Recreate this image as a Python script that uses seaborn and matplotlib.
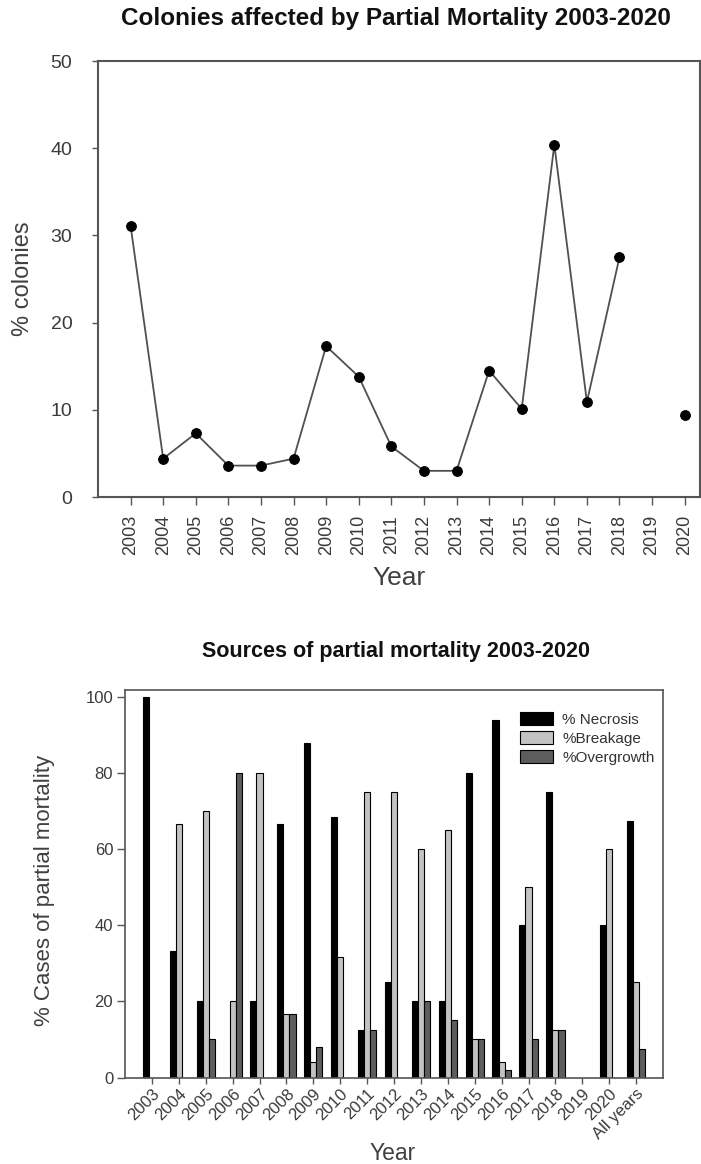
import numpy as np
import pandas as pd
import matplotlib
matplotlib.use("Agg")
import matplotlib.pyplot as plt
import seaborn as sns

# ---- data -------------------------------------------------------------
years = list(range(2003, 2021))
colonies_pct = [31.1, 4.4, 7.3, 3.6, 3.6, 4.4, 17.3, 13.8, 5.8, 3.0,
                3.0, 14.5, 10.1, 40.4, 10.9, 27.5, np.nan, 9.4]

source_years = [str(y) for y in range(2003, 2021)] + ["All years"]
necrosis = [100, 33.3, 20, 0, 20, 66.7, 88, 68.4, 12.5, 25,
            20, 20, 80, 94, 40, 75, 0, 40, 67.5]
breakage = [0, 66.7, 70, 20, 80, 16.7, 4, 31.6, 75, 75,
            60, 65, 10, 4, 50, 12.5, 0, 60, 25]
overgrowth = [0, 0, 10, 80, 0, 16.7, 8, 0, 12.5, 0,
              20, 15, 10, 2, 10, 12.5, 0, 0, 7.5]
source_names = ["% Necrosis", "%Breakage", "%Overgrowth"]
source_colors = ["#000000", "#c3c3c3", "#5d5d5d"]

# ---- style ------------------------------------------------------------
sns.set_style("white")
plt.rcParams["font.family"] = ["Liberation Sans", "DejaVu Sans"]
TICK_C = "#3a3a3a"
LABEL_C = "#404040"

W, H = 701, 1164
fig = plt.figure(figsize=(W / 100, H / 100), dpi=100)


def px_axes(left, top, right, bottom):
    return fig.add_axes([left / W, 1 - bottom / H, (right - left) / W, (bottom - top) / H])


# ---- upper panel: colonies with partial mortality ---------------------
ax1 = px_axes(98, 61, 700, 497)
line_df = pd.DataFrame({"year": years, "pct": colonies_pct})
line_df["run"] = line_df["pct"].isna().cumsum()
line_df = line_df.dropna()
sns.lineplot(data=line_df, x="year", y="pct", units="run", estimator=None,
             color="#505050", linewidth=1.3, marker="o", markersize=7,
             markerfacecolor="black", markeredgecolor="black",
             legend=False, ax=ax1)
ax1.set_xlim(2002, 2020.47)
ax1.set_ylim(0, 50)
ax1.set_xticks(years)
ax1.set_xticklabels([str(y) for y in years], rotation=90, fontsize=13, color=TICK_C)
ax1.set_yticks(range(0, 51, 10))
ax1.set_yticklabels([str(v) for v in range(0, 51, 10)], fontsize=14, color=TICK_C)
ax1.tick_params(axis="x", direction="out", length=5.8, width=1, color="#555555",
                pad=7, bottom=True)
ax1.tick_params(axis="y", direction="out", length=4.5, width=1, color="#555555",
                pad=14, left=True)
for s in ax1.spines.values():
    s.set_color("#555555")
    s.set_linewidth(1.5)
ax1.set_xlabel("Year", fontsize=19, color=LABEL_C)
ax1.set_ylabel("% colonies", fontsize=17, color=LABEL_C)
ax1.xaxis.set_label_coords(0.5, -0.158)
ax1.yaxis.set_label_coords(-0.107, 0.5)
fig.text(396 / W, 1 - 18 / H, "Colonies affected by Partial Mortality 2003-2020",
         ha="center", va="center", fontsize=17.5, fontweight="bold", color="#111111")

# ---- lower panel: sources of partial mortality ------------------------
ax2 = px_axes(125, 690, 663, 1077.5)
bar_df = pd.DataFrame({
    "year": source_years * 3,
    "source": np.repeat(source_names, len(source_years)),
    "value": necrosis + breakage + overgrowth,
})
sns.barplot(data=bar_df, x="year", y="value", hue="source", order=source_years,
            hue_order=source_names, palette=dict(zip(source_names, source_colors)),
            width=0.68, edgecolor="black", linewidth=0.8, saturation=1,
            errorbar=None, ax=ax2)
ax2.set_xlim(-1, len(source_years))
ax2.set_ylim(0, 101.9)
ax2.set_xticks(range(len(source_years)))
ax2.set_xticklabels(source_years, rotation=45, ha="right", rotation_mode="anchor",
                    fontsize=12, color=TICK_C)
ax2.set_yticks(range(0, 101, 20))
ax2.set_yticklabels([str(v) for v in range(0, 101, 20)], fontsize=12, color=TICK_C)
ax2.tick_params(axis="x", direction="out", length=4.5, width=1, color="#555555",
                pad=2, bottom=True)
ax2.tick_params(axis="y", direction="out", length=5.5, width=1, color="#555555",
                pad=3, left=True)
for s in ax2.spines.values():
    s.set_color("#555555")
    s.set_linewidth(1.2)
ax2.set_xlabel("Year", fontsize=16.5, color=LABEL_C)
ax2.set_ylabel("% Cases of partial mortality", fontsize=16, color=LABEL_C)
ax2.xaxis.set_label_coords(0.498, -0.166)
ax2.yaxis.set_label_coords(-0.13, 0.484)

handles, labels = ax2.get_legend_handles_labels()
ax2.legend(handles, labels, frameon=False, loc="upper left",
           bbox_to_anchor=(520 / W, 1 - 712 / H), bbox_transform=fig.transFigure,
           fontsize=11, handlelength=2.15, handleheight=0.9, handletextpad=0.6,
           labelspacing=0.3, borderpad=0, borderaxespad=0, labelcolor="#333333")

fig.text(396 / W, 1 - 651 / H, "Sources of partial mortality 2003-2020",
         ha="center", va="center", fontsize=15.5, fontweight="bold", color="#111111")

fig.savefig("out.png", dpi=100)
